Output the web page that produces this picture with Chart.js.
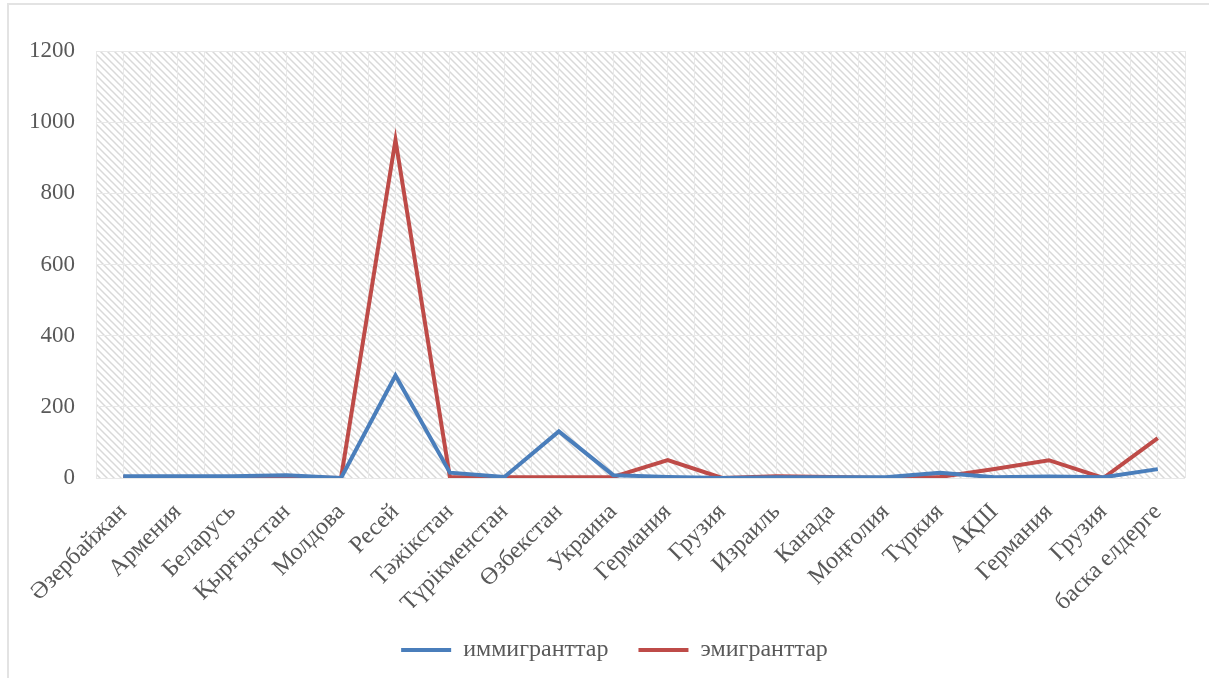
<!DOCTYPE html>
<html>
<head>
<meta charset="utf-8">
<script src="https://cdn.jsdelivr.net/npm/chart.js"></script>
<style>
    body { margin: 0; background: #fff; }
    #frame { position: absolute; left: 7px; top: 3px; width: 1300px; height: 800px; border-left: 2px solid #e3e3e3; border-top: 2px solid #e3e3e3; }
    #wrap { position: absolute; left: 0; top: 0; width: 1209px; height: 678px; }
</style>
</head>
<body>
<div id="frame"></div>
<div id="wrap"><canvas id="migrationChart"></canvas></div>
<script>
const countries = ['Әзербайжан', 'Армения', 'Беларусь', 'Қырғызстан', 'Молдова', 'Ресей', 'Тәжікстан', 'Түрікменстан', 'Өзбекстан', 'Украина',
    'Германия', 'Грузия', 'Израиль', 'Канада', 'Моңғолия', 'Түркия', 'АҚШ', 'Германия', 'Грузия', 'баска елдерге'];
const immigrants = [5, 5, 5, 8, 0, 288, 15, 3, 131, 8, 3, 0, 2, 2, 2, 15, 2, 4, 2, 25];
const emigrants = [2, 2, 3, 2, 0, 950, 2, 2, 2, 3, 50, 0, 5, 3, 0, 3, 25, 50, 0, 112];
const yTicks = [0, 200, 400, 600, 800, 1000, 1200];

const textColor = '#595959';
const fontFamily = "'Liberation Serif', 'DejaVu Serif', serif";

// diagonal hatch like the Excel plot area fill
function makeHatch() {
    const tile = document.createElement('canvas');
    tile.width = 7;
    tile.height = 7;
    const c = tile.getContext('2d');
    c.strokeStyle = '#d9d9d9';
    c.lineWidth = 1.5;
    c.beginPath();
    c.moveTo(-1, -1); c.lineTo(8, 8);
    c.moveTo(-8, -1); c.lineTo(1, 8);
    c.moveTo(6, -1); c.lineTo(15, 8);
    c.stroke();
    return tile;
}

const hatchPlugin = {
    id: 'hatch',
    afterLayout(chart) {
        // legend is centred on the whole frame, not only the plot
        chart.legend.left += 22;
        chart.legend.right += 22;
    },
    beforeDraw(chart) {
        const { ctx, chartArea } = chart;
        ctx.save();
        ctx.fillStyle = ctx.createPattern(makeHatch(), 'repeat');
        ctx.fillRect(chartArea.left, chartArea.top, chartArea.right - chartArea.left, chartArea.bottom - chartArea.top);
        ctx.restore();
    }
};

const ctx = document.getElementById('migrationChart').getContext('2d');
new Chart(ctx, {
    type: 'line',
    data: {
        labels: countries,
        datasets: [{
            label: 'иммигранттар',
            data: immigrants,
            borderColor: '#4a7ebb',
            backgroundColor: '#4a7ebb',
            borderWidth: 4,
            pointRadius: 0,
            tension: 0
        }, {
            label: 'эмигранттар',
            data: emigrants,
            borderColor: '#be4b48',
            backgroundColor: '#be4b48',
            borderWidth: 4,
            pointRadius: 0,
            tension: 0
        }]
    },
    options: {
        responsive: true,
        maintainAspectRatio: false,
        animation: false,
        layout: { padding: { left: 0, right: 24, top: 51, bottom: 6 } },
        plugins: {
            legend: {
                position: 'bottom',
                labels: {
                    color: textColor,
                    font: { family: fontFamily, size: 24 },
                    boxWidth: 50,
                    boxHeight: 0,
                    padding: 30,
                    generateLabels(chart) {
                        return chart.data.datasets.map((ds, i) => ({
                            text: ds.label,
                            fillStyle: ds.borderColor,
                            strokeStyle: ds.borderColor,
                            lineWidth: 4,
                            lineCap: 'round',
                            fontColor: textColor,
                            datasetIndex: i
                        }));
                    }
                }
            },
            tooltip: { enabled: false }
        },
        scales: {
            x: {
                offset: true,
                grid: { display: false },
                border: { display: false },
                ticks: {
                    color: textColor,
                    font: { family: fontFamily, size: 24 },
                    maxRotation: 45,
                    minRotation: 45,
                    autoSkip: false,
                    padding: 12
                },
                afterFit(scale) { scale.height = 130; }
            },
            xGrid: {
                type: 'linear',
                position: 'bottom',
                min: 0,
                max: countries.length * 2,
                display: true,
                grid: { color: '#e8e8e8', lineWidth: 1, drawTicks: false },
                border: { display: false },
                ticks: { display: false, stepSize: 1 },
                afterFit(scale) { scale.height = 0; }
            },
            y: {
                min: 0,
                max: 1200,
                afterBuildTicks(scale) { scale.ticks = yTicks.map(v => ({ value: v })); },
                grid: { color: '#e8e8e8', lineWidth: 1, drawTicks: false },
                border: { display: false },
                ticks: {
                    color: textColor,
                    font: { family: fontFamily, size: 23 },
                    padding: 21,
                    callback: v => String(v)
                },
                afterFit(scale) { scale.width = 96; }
            }
        }
    },
    plugins: [hatchPlugin]
});
</script>
</body>
</html>
